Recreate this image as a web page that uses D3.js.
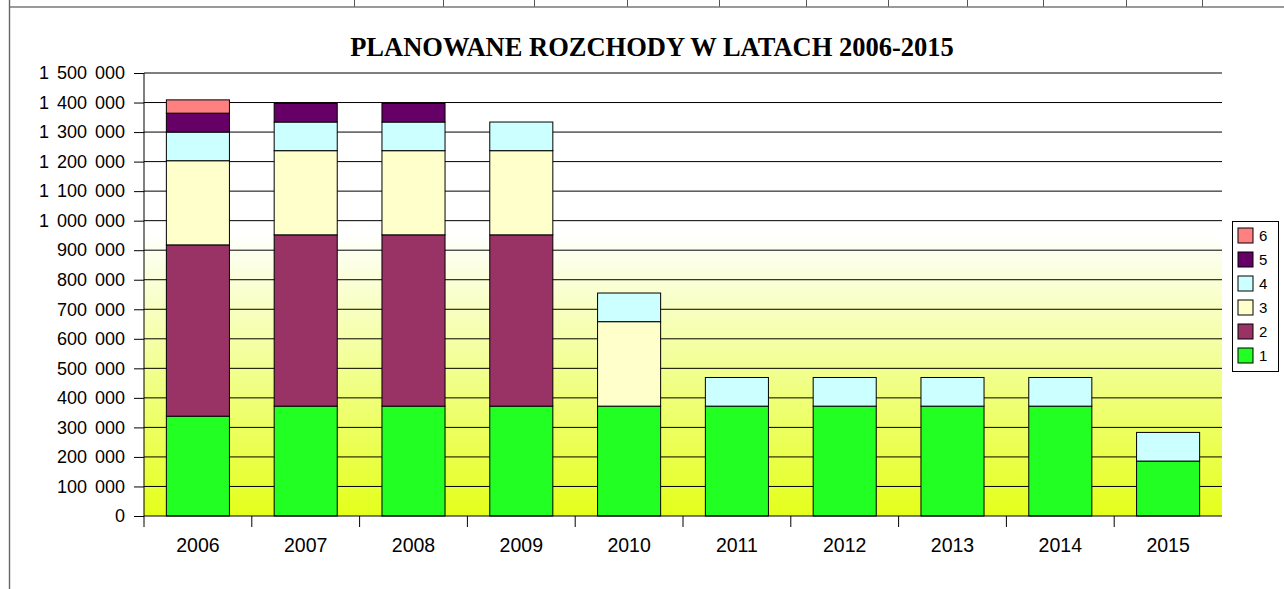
<!DOCTYPE html>
<html>
<head>
<meta charset="utf-8">
<script src="https://cdn.jsdelivr.net/npm/d3@7"></script>
<style>
  body { margin: 0; background: #fff; }
  svg { display: block; }
</style>
</head>
<body>
<div id="chart"></div>
<script>
// chart data
var years = ["2006", "2007", "2008", "2009", "2010", "2011", "2012", "2013", "2014", "2015"];
var seriesNames = ["1", "2", "3", "4", "5", "6"];
var s1 = [338000, 372000, 372000, 372000, 372000, 372000, 372000, 372000, 372000, 186000];
var s2 = [580000, 580000, 580000, 580000, 0, 0, 0, 0, 0, 0];
var s3 = [285000, 285000, 285000, 285000, 286000, 0, 0, 0, 0, 0];
var s4 = [97000, 97000, 97000, 97000, 97000, 97000, 97000, 97000, 97000, 97000];
var s5 = [64000, 63000, 63000, 0, 0, 0, 0, 0, 0, 0];
var s6 = [45000, 0, 0, 0, 0, 0, 0, 0, 0, 0];
var colors = ["#22ff22", "#993366", "#ffffcc", "#ccffff", "#660066", "#ff8080"];
var yTicks = [0, 100000, 200000, 300000, 400000, 500000, 600000, 700000, 800000, 900000,
              1000000, 1100000, 1200000, 1300000, 1400000, 1500000];

var allSeries = [s1, s2, s3, s4, s5, s6];
var rows = years.map(function(y, i) {
    var r = { year: y };
    seriesNames.forEach(function(n, k) { r[n] = allSeries[k][i]; });
    return r;
});

var W = 1284, H = 589;
var margin = { top: 73, right: 62, bottom: 73, left: 144 },
    width = W - margin.left - margin.right,
    height = H - margin.top - margin.bottom;

var svg = d3.select("#chart").append("svg")
    .attr("width", W)
    .attr("height", H);

// spreadsheet frame behind the chart
var colLines = [354, 443, 534, 627, 719, 806, 888, 967, 1043, 1126, 1202];
svg.selectAll(".col").data(colLines).enter().append("line")
    .attr("x1", function(d) { return d + 0.5; }).attr("x2", function(d) { return d + 0.5; })
    .attr("y1", 0).attr("y2", 7)
    .attr("stroke", "#555").attr("stroke-width", 1);
svg.append("line").attr("x1", 9).attr("x2", W).attr("y1", 7).attr("y2", 7)
    .attr("stroke", "#777").attr("stroke-width", 1.6);
svg.append("line").attr("x1", 9.5).attr("x2", 9.5).attr("y1", 0).attr("y2", H)
    .attr("stroke", "#666").attr("stroke-width", 1.4);

// title
svg.append("text")
    .attr("x", 652)
    .attr("y", 56)
    .attr("text-anchor", "middle")
    .style("font-family", "'Liberation Serif', 'Times New Roman', serif")
    .style("font-weight", "bold")
    .style("font-size", "26.5px")
    .text("PLANOWANE ROZCHODY W LATACH 2006-2015");

var g = svg.append("g")
    .attr("transform", "translate(" + margin.left + "," + margin.top + ")");

var x = d3.scaleBand().domain(years).range([0, width]).padding(0);
var y = d3.scaleLinear().domain([0, 1500000]).range([height, 0]);

// plot area gradient
var defs = svg.append("defs");
var grad = defs.append("linearGradient").attr("id", "bg")
    .attr("x1", 0).attr("y1", 0).attr("x2", 0).attr("y2", 1);
grad.append("stop").attr("offset", "0").attr("stop-color", "#ffffff");
grad.append("stop").attr("offset", "0.36").attr("stop-color", "#ffffff");
grad.append("stop").attr("offset", "1").attr("stop-color", "#e4ff1a");

g.append("rect")
    .attr("x", 0).attr("y", 0)
    .attr("width", width).attr("height", height)
    .attr("fill", "url(#bg)");

// gridlines
g.selectAll(".grid").data(yTicks.slice(1)).enter().append("line")
    .attr("x1", 0).attr("x2", width)
    .attr("y1", function(d) { return y(d); })
    .attr("y2", function(d) { return y(d); })
    .attr("stroke", "#000").attr("stroke-width", 1);

// y axis
var fmt = d3.formatLocale({ decimal: ",", thousands: " ", grouping: [3], currency: ["", " zł"] }).format(",d");
var yAxis = d3.axisLeft(y).tickValues(yTicks).tickFormat(fmt).tickSize(10).tickPadding(9);
var ya = g.append("g").call(yAxis);
ya.select(".domain").remove();
ya.selectAll(".tick line").attr("stroke", "#000");
ya.selectAll("text")
    .style("font-family", "'Liberation Sans', Arial, sans-serif")
    .style("font-size", "18px")
    .style("word-spacing", "3px")
    .attr("fill", "#000");
g.append("line").attr("x1", 0).attr("x2", 0).attr("y1", 0).attr("y2", height + 11)
    .attr("stroke", "#000");

// stacked bars
var stack = d3.stack().keys(seriesNames);
var layers = stack(rows);
var barW = x.bandwidth() * 0.585;

g.selectAll(".layer").data(layers).enter().append("g")
    .attr("fill", function(d, i) { return colors[i]; })
    .selectAll("rect")
    .data(function(d) { return d.filter(function(p) { return p[1] - p[0] > 0; }); })
    .enter().append("rect")
    .attr("x", function(d) { return x(d.data.year) + (x.bandwidth() - barW) / 2; })
    .attr("width", barW)
    .attr("y", function(d) { return y(d[1]); })
    .attr("height", function(d) { return y(d[0]) - y(d[1]); })
    .attr("stroke", "#000")
    .attr("stroke-width", 1);

// x axis
g.append("line").attr("x1", 0).attr("x2", width).attr("y1", height).attr("y2", height)
    .attr("stroke", "#000");
g.selectAll(".xtick").data(years.slice(1)).enter().append("line")
    .attr("x1", function(d) { return x(d); }).attr("x2", function(d) { return x(d); })
    .attr("y1", height).attr("y2", height + 11)
    .attr("stroke", "#000");
g.selectAll(".xlab").data(years).enter().append("text")
    .attr("x", function(d) { return x(d) + x.bandwidth() / 2; })
    .attr("y", height + 36)
    .attr("text-anchor", "middle")
    .style("font-family", "'Liberation Sans', Arial, sans-serif")
    .style("font-size", "19.5px")
    .text(function(d) { return d; });

// legend
var legend = svg.append("g").attr("transform", "translate(1232,221)");
legend.append("rect")
    .attr("x", 0.5).attr("y", 0.5).attr("width", 46).attr("height", 150)
    .attr("fill", "#fff").attr("stroke", "#000");
var items = legend.selectAll(".item").data(seriesNames.slice().reverse()).enter().append("g")
    .attr("transform", function(d, i) { return "translate(6," + (7 + i * 24) + ")"; });
items.append("rect")
    .attr("width", 15).attr("height", 15)
    .attr("fill", function(d) { return colors[seriesNames.indexOf(d)]; })
    .attr("stroke", "#000");
items.append("text")
    .attr("x", 21).attr("y", 13)
    .style("font-family", "'Liberation Sans', Arial, sans-serif")
    .style("font-size", "15px")
    .text(function(d) { return d; });
</script>
</body>
</html>
